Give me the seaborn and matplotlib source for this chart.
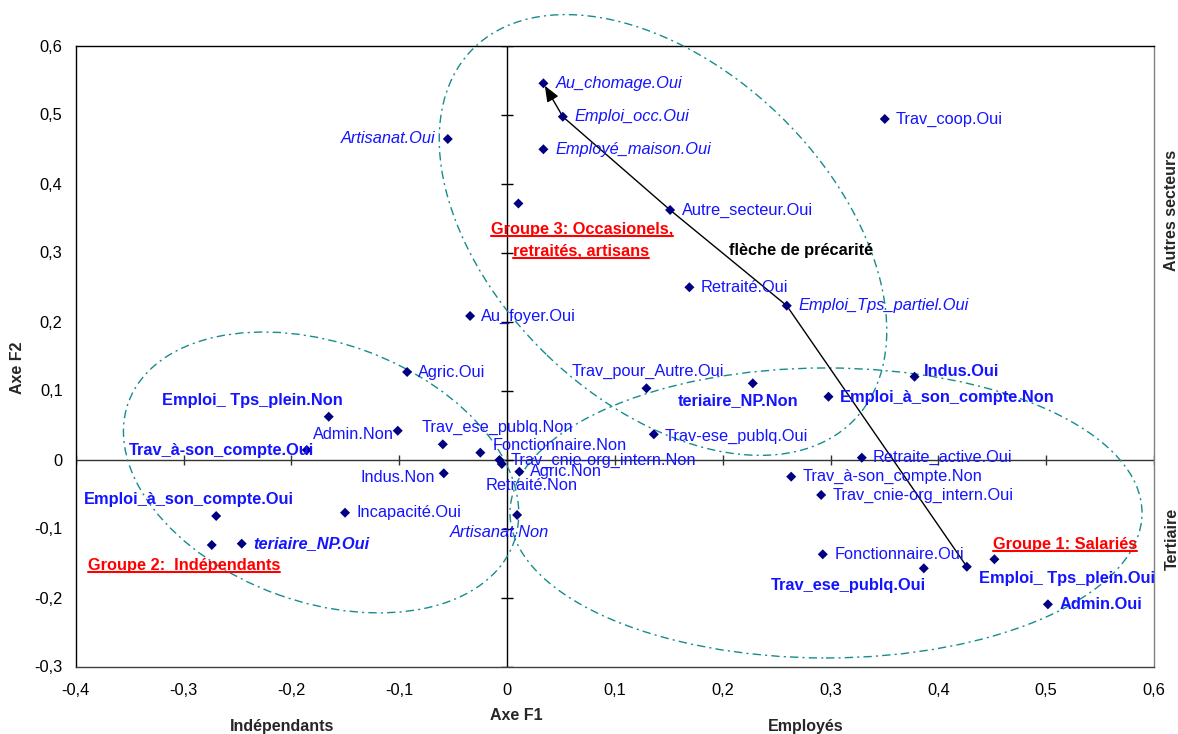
import numpy as np
import pandas as pd
import matplotlib
matplotlib.use("Agg")
import matplotlib.pyplot as plt
import seaborn as sns
from matplotlib.patches import Ellipse
from matplotlib.transforms import ScaledTranslation
from matplotlib.lines import Line2D

# ---- coordinates of the modalities on the first factorial plane ----
modalites = [
    "Au_chomage.Oui", "Emploi_occ.Oui", "Employé_maison.Oui", "Artisanat.Oui", "",
    "Autre_secteur.Oui", "Trav_coop.Oui", "Retraité.Oui", "Emploi_Tps_partiel.Oui",
    "Au_foyer.Oui", "Agric.Oui", "Trav_pour_Autre.Oui", "teriaire_NP.Non", "Indus.Oui",
    "Emploi_à_son_compte.Non", "Trav-ese_publq.Oui", "Emploi_ Tps_plein.Non", "Admin.Non",
    "Trav_à-son_compte.Oui", "Trav_ese_publq.Non", "Fonctionnaire.Non",
    "Trav_cnie-org_intern.Non", "Retraité.Non", "Agric.Non", "Indus.Non", "Incapacité.Oui",
    "Artisanat.Non", "Emploi_à_son_compte.Oui", "", "teriaire_NP.Oui", "Retraite_active.Oui",
    "Trav_à-son_compte.Non", "Trav_cnie-org_intern.Oui", "Fonctionnaire.Oui",
    "Trav_ese_publq.Oui", "Emploi_ Tps_plein.Oui", "", "Admin.Oui",
]
axe_f1 = [
    0.0337, 0.0517, 0.0337, -0.0550, 0.0105,
    0.1512, 0.3503, 0.1691, 0.2594,
    -0.0343, -0.0927, 0.1293, 0.2279, 0.3779,
    0.2981, 0.1361, -0.1654, -0.1014,
    -0.1858, -0.0596, -0.0248,
    -0.0071, -0.0049, 0.0114, -0.0587, -0.1503,
    0.0093, -0.2698, -0.2739, -0.2461, 0.3290,
    0.2635, 0.2913, 0.2928,
    0.3865, 0.4264, 0.4520, 0.5016,
]
axe_f2 = [
    0.5452, 0.4968, 0.4496, 0.4645, 0.3710,
    0.3616, 0.4935, 0.2496, 0.2229,
    0.2080, 0.1268, 0.1032, 0.1104, 0.1200,
    0.0910, 0.0365, 0.0620, 0.0417,
    0.0138, 0.0220, 0.0099,
    -0.0007, -0.0065, -0.0177, -0.0200, -0.0771,
    -0.0804, -0.0819, -0.1239, -0.1220, 0.0026,
    -0.0249, -0.0514, -0.1374,
    -0.1577, -0.1554, -0.1446, -0.2099,
]

x_ticks = [-0.4, -0.3, -0.2, -0.1, 0.0, 0.1, 0.2, 0.3, 0.4, 0.5, 0.6]
x_tick_labels = ["-0,4", "-0,3", "-0,2", "-0,1", "0", "0,1", "0,2", "0,3", "0,4", "0,5", "0,6"]
y_ticks = [-0.3, -0.2, -0.1, 0.0, 0.1, 0.2, 0.3, 0.4, 0.5, 0.6]
y_tick_labels = ["-0,3", "-0,2", "-0,1", "0", "0,1", "0,2", "0,3", "0,4", "0,5", "0,6"]

# modalities joined by the precarity arrow, from its tail to its tip
fleche = ["Emploi_ Tps_plein.Oui", "Emploi_Tps_partiel.Oui", "Autre_secteur.Oui",
          "Emploi_occ.Oui", "Au_chomage.Oui"]

# ---- label placement: offset in pixels (x right, y up), alignment, font style ----
placement = [
    (12, 0, "left", "i"), (12, 0, "left", "i"), (12, 0, "left", "i"), (-12, 0, "right", "i"), None,
    (12, 0, "left", "n"), (11, 0, "left", "n"), (11, 0, "left", "n"), (12, 0, "left", "i"),
    (11, 0, "left", "n"), (11, 0, "left", "n"), (-75, 17, "left", "n"), (46, -17, "right", "b"),
    (9, 5, "left", "b"),
    (11, -1, "left", "b"), (11, -2, "left", "n"), (14, 16, "right", "b"), (-4, -4, "right", "n"),
    (7, -1, "right", "b"), (-21, 17, "left", "n"), (12, 7, "left", "n"),
    (11, 0, "left", "n"), (-16, -22, "left", "n"), (11, 0, "left", "n"), (-9, -4, "right", "n"),
    (11, 0, "left", "n"),
    (32, -18, "right", "i"), (78, 17, "right", "b"), None, (12, 0, "left", "bi"), (11, 0, "left", "n"),
    (11, 0, "left", "n"), (11, 0, "left", "n"), (12, 0, "left", "n"),
    (2, -17, "right", "b"), (12, -12, "left", "b"), None, (12, 0, "left", "b"),
]

# group outlines: centre (data), semi-axes (pixels), rotation (degrees)
groupes = [
    (0.2958, -0.0775, 316, 145, 0),
    (-0.1725, -0.0188, 205, 129.5, -20),
    (0.1446, 0.3254, 266, 167, -44),
]
# group titles: text, x, baseline y, alignment
groupe_textes = [
    ("Groupe 3: Occasionels,", 0.0695, 0.3275, "center"),
    ("retraités, artisans", 0.0682, 0.2952, "center"),
    ("Groupe 2:  Indépendants", -0.3888, -0.1599, "left"),
    ("Groupe 1: Salariés", 0.4503, -0.1290, "left"),
]

DPI = 100
W, H = 1178, 734
BLEU = "#1414ff"
MARINE = "#000080"
TEAL = "#168c8c"
FS = 11.8

sns.set_style("white")
plt.rcParams["font.family"] = ["Liberation Sans", "DejaVu Sans"]

fig = plt.figure(figsize=(W / DPI, H / DPI), dpi=DPI)
ax = fig.add_axes([75.8 / W, 1 - 666.5 / H, (1154 - 75.8) / W, (666.5 - 45.5) / H])

df = pd.DataFrame({"modalite": modalites, "F1": axe_f1, "F2": axe_f2})
sns.scatterplot(data=df, x="F1", y="F2", marker="D", s=26, color=MARINE,
                edgecolor="none", linewidth=0, ax=ax, zorder=5, legend=False)

ax.set_xlim(-0.4, 0.6)
ax.set_ylim(-0.3, 0.6)
ax.set_xticks(x_ticks, x_tick_labels)
ax.set_yticks(y_ticks, y_tick_labels)
ax.tick_params(length=0, labelsize=FS, colors="black")
ax.tick_params(axis="x", pad=12)
ax.tick_params(axis="y", pad=9.5)
ax.set_xlabel("")
ax.set_ylabel("")
for side, col in [("top", "black"), ("left", "black"), ("right", "#808080"), ("bottom", "#404040")]:
    ax.spines[side].set_color(col)
    ax.spines[side].set_linewidth(1)

# axes through the origin, with crossing tick marks
ax.axhline(0, color="#333333", lw=1, zorder=2)
ax.axvline(0, color="black", lw=1, zorder=2)
ax.plot(x_ticks, np.zeros(len(x_ticks)), ls="none", marker="|", ms=7, mew=1, color="#333333", zorder=2)
ax.plot(np.zeros(len(y_ticks)), y_ticks, ls="none", marker="_", ms=8, mew=1, color="black", zorder=2)

# modality labels
for i, name in enumerate(modalites):
    if not name:
        continue
    dx, dy, ha, st = placement[i]
    ax.annotate(name, (axe_f1[i], axe_f2[i]), xytext=(dx, dy), textcoords="offset pixels",
                ha=ha, va="center", fontsize=FS, color=BLEU,
                fontweight="bold" if "b" in st else "normal",
                fontstyle="italic" if "i" in st else "normal", zorder=6)

# precarity arrow
idx = [modalites.index(n) for n in fleche]
fx = [axe_f1[i] for i in idx]
fy = [axe_f2[i] for i in idx]
ax.plot(fx[:-1], fy[:-1], color="black", lw=1, zorder=4)
ax.annotate("", xy=(fx[-1], fy[-1]), xytext=(fx[-2], fy[-2]),
            arrowprops=dict(arrowstyle="-|>,head_length=0.8,head_width=0.32", color="black",
                            lw=1, shrinkA=0, shrinkB=2, mutation_scale=12), zorder=4)
ax.text(0.2054, 0.3036, "flèche de précarité", ha="left", va="center", fontsize=FS,
        fontweight="bold", color="black", zorder=6)

# group outlines
for cx, cy, a, b, ang in groupes:
    tr = fig.dpi_scale_trans + ScaledTranslation(cx, cy, ax.transData)
    e = Ellipse((0, 0), 2 * a / DPI, 2 * b / DPI, angle=ang, transform=tr, fill=False,
                ec=TEAL, lw=1.0, ls=(0, (6, 3, 1.5, 3)), clip_on=False, zorder=3)
    ax.add_artist(e)

# group titles, underlined
titres = []
for txt, gx, gy, ha in groupe_textes:
    t = ax.text(gx, gy, txt, ha=ha, va="baseline", fontsize=FS, fontweight="bold",
                color="#ff0000", zorder=6)
    titres.append((t, gx, gy))

# axis titles
fig.text(18 / W, 1 - 368 / H, "Axe F2", rotation=90, ha="center", va="center",
         fontsize=11.5, fontweight="bold")
fig.text(516 / W, 1 - 716 / H, "Axe F1", ha="center", va="center", fontsize=11.5, fontweight="bold")
fig.text(282 / W, 1 - 726 / H, "Indépendants", ha="center", va="center", fontsize=11.5, fontweight="bold")
fig.text(806 / W, 1 - 726 / H, "Employés", ha="center", va="center", fontsize=11.5, fontweight="bold")
fig.text(1172 / W, 1 - 210.5 / H, "Autres secteurs", rotation=90, ha="center", va="center",
         fontsize=11.5, fontweight="bold")
fig.text(1172 / W, 1 - 539 / H, "Tertiaire", rotation=90, ha="center", va="center",
         fontsize=11.5, fontweight="bold")

fig.canvas.draw()
renderer = fig.canvas.get_renderer()
inv = fig.transFigure.inverted()
for t, gx, gy in titres:
    bb = t.get_window_extent(renderer)
    base = ax.transData.transform((gx, gy))[1]
    uy = base - 2.2
    (x0, y0), (x1, y1) = inv.transform([(bb.x0, uy), (bb.x1, uy)])
    fig.add_artist(Line2D([x0, x1], [y0, y1], color="#ff0000", lw=1.5, transform=fig.transFigure))

fig.savefig("out.png", dpi=DPI)
